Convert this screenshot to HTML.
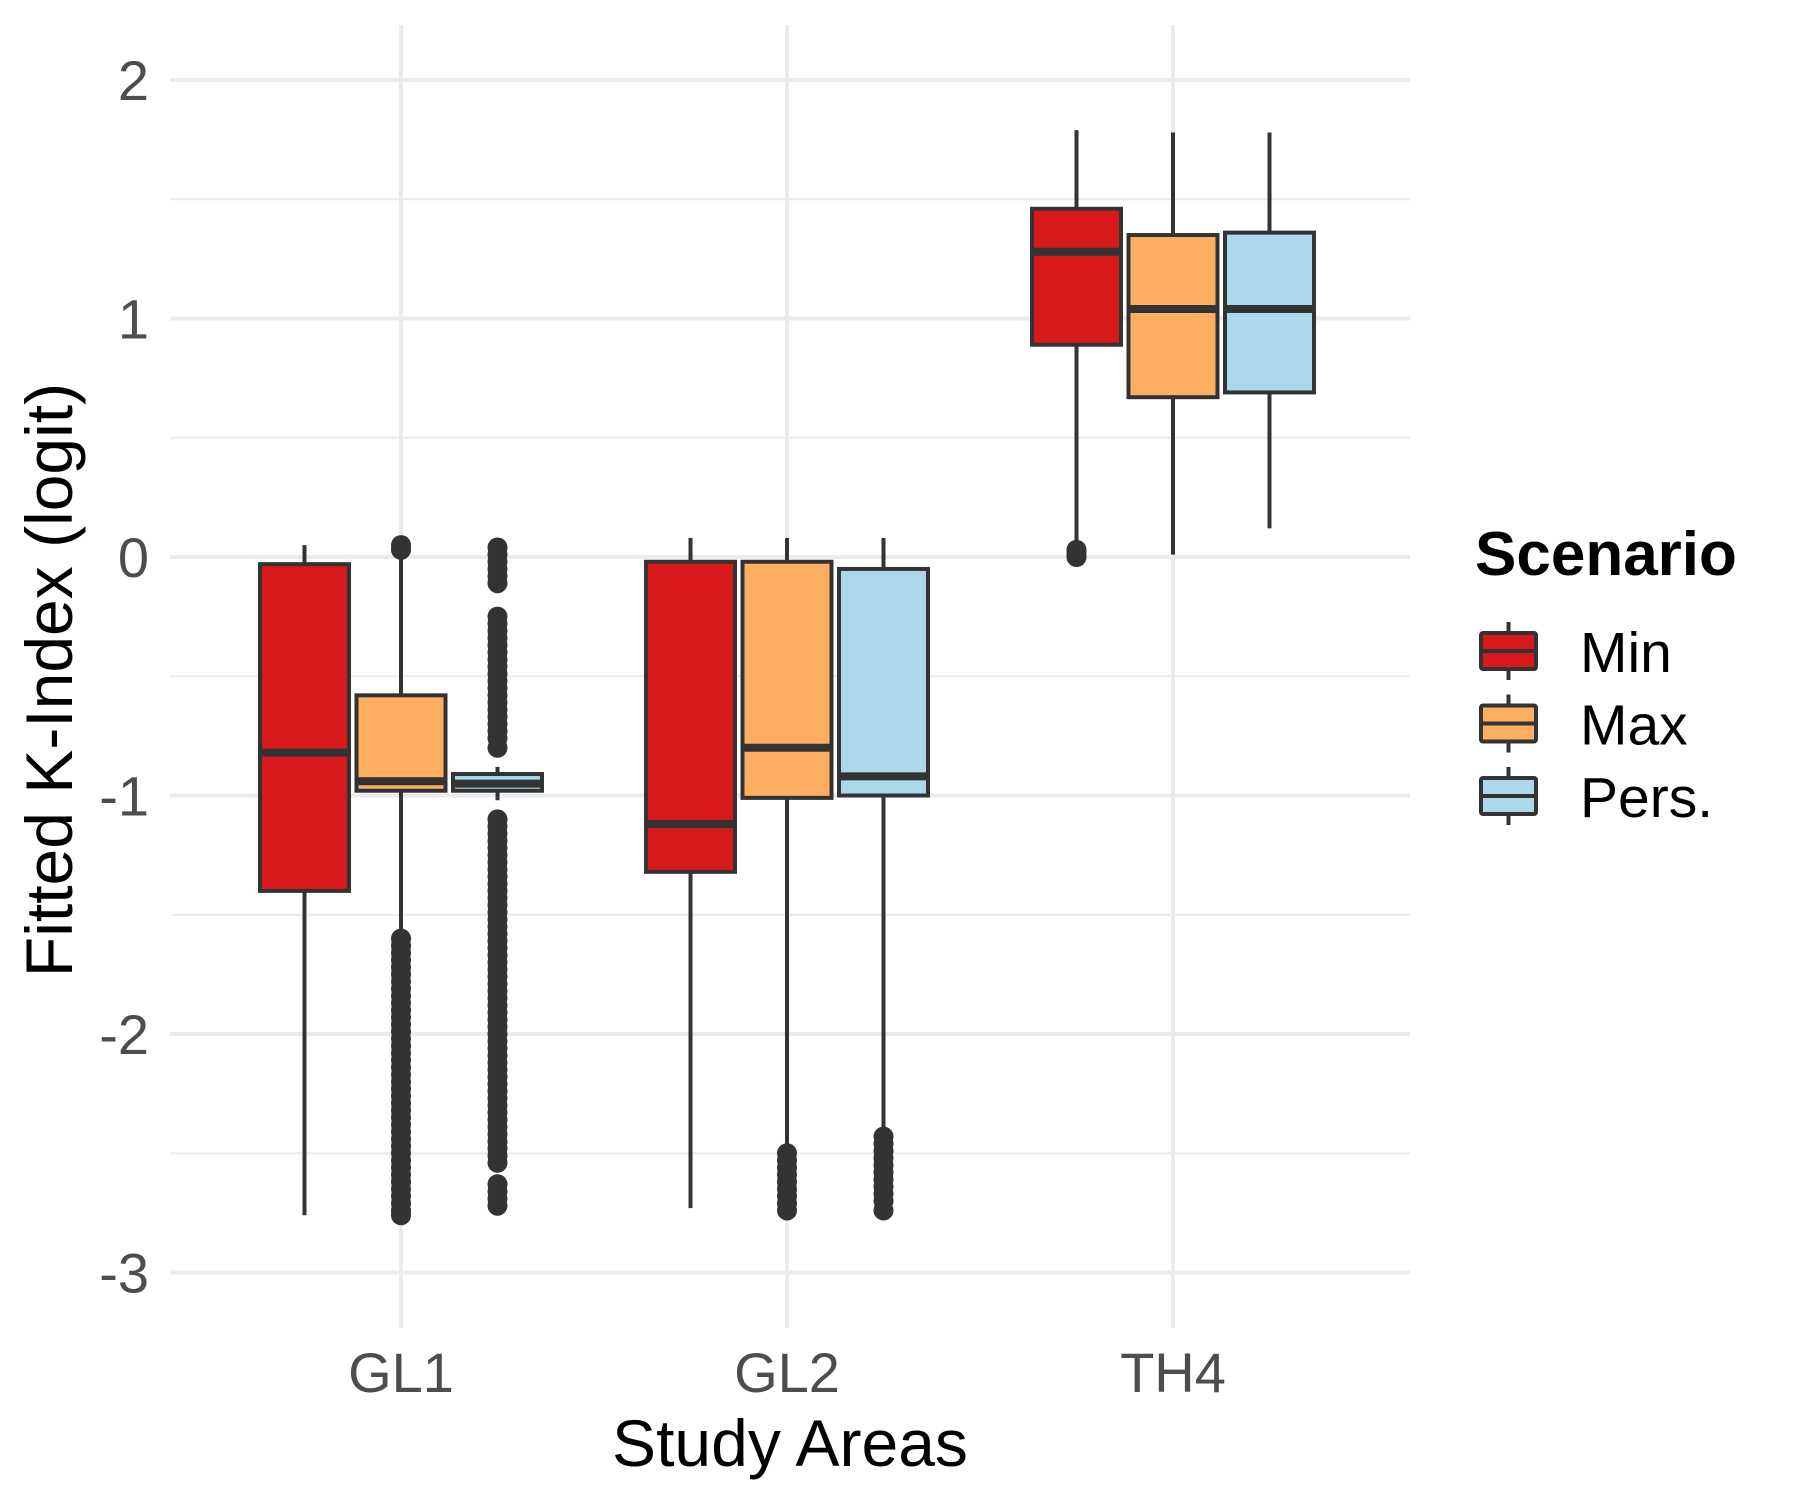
<!DOCTYPE html>
<html><head><meta charset="utf-8"><style>
html,body{margin:0;padding:0;background:#fff}
svg{display:block;font-family:"Liberation Sans",sans-serif}
</style></head><body>
<svg id="chart" width="1800" height="1500" viewBox="0 0 1800 1500">
<g id="grid"></g>
<g id="marks"></g>
<g id="axes"></g>
<text x="790" y="1466" font-size="66" text-anchor="middle" fill="#000">Study Areas</text>
<text transform="translate(72,680) rotate(-90)" font-size="66" text-anchor="middle" fill="#000">Fitted K-Index (logit)</text>
<g id="legend">
<text x="1475" y="575" font-size="62" font-weight="bold" fill="#000">Scenario</text>
</g>
</svg>
<script>
const categories = ["GL1", "GL2", "TH4"];
const scenarios = ["Min", "Max", "Pers."];
const colors = ["#d7191c", "#fdae61", "#abd9e9"];
const yTicks = [2, 1, 0, -1, -2, -3];
const yTickLabels = ["2", "1", "0", "-1", "-2", "-3"];
// [lowerWhisker, Q1, median, Q3, upperWhisker] per category per scenario
const minStats = [[-2.76, -1.40, -0.82, -0.03, 0.05], [-2.73, -1.32, -1.12, -0.02, 0.08], [0.05, 0.89, 1.28, 1.46, 1.79]];
const maxStats = [[-1.58, -0.98, -0.94, -0.58, 0.00], [-2.48, -1.01, -0.80, -0.02, 0.08], [0.01, 0.67, 1.04, 1.35, 1.78]];
const persStats = [[-1.02, -0.98, -0.95, -0.91, -0.88], [-2.42, -1.00, -0.92, -0.05, 0.08], [0.12, 0.69, 1.04, 1.36, 1.78]];
const minOutliers = [[], [], [0.0, 0.015, 0.03]];
const maxOutliers = [[0.03, 0.05, -1.6, -1.63, -1.66, -1.69, -1.72, -1.75, -1.78, -1.81, -1.84, -1.87, -1.9, -1.93, -1.96, -1.99, -2.02, -2.05, -2.08, -2.11, -2.14, -2.17, -2.2, -2.23, -2.26, -2.29, -2.32, -2.35, -2.38, -2.41, -2.44, -2.47, -2.5, -2.53, -2.56, -2.59, -2.62, -2.65, -2.68, -2.71, -2.74, -2.76], [-2.5, -2.53, -2.56, -2.59, -2.62, -2.65, -2.68, -2.71, -2.74], []];
const persOutliers = [[0.04, 0.01, -0.02, -0.05, -0.08, -0.11, -0.25, -0.28, -0.31, -0.34, -0.37, -0.4, -0.43, -0.46, -0.49, -0.52, -0.55, -0.58, -0.61, -0.64, -0.67, -0.7, -0.73, -0.76, -0.8, -1.1, -1.13, -1.16, -1.19, -1.22, -1.25, -1.28, -1.31, -1.34, -1.37, -1.4, -1.43, -1.46, -1.49, -1.52, -1.55, -1.58, -1.61, -1.64, -1.67, -1.7, -1.73, -1.76, -1.79, -1.82, -1.85, -1.88, -1.91, -1.94, -1.97, -2.0, -2.03, -2.06, -2.09, -2.12, -2.15, -2.18, -2.21, -2.24, -2.27, -2.3, -2.33, -2.36, -2.39, -2.42, -2.45, -2.48, -2.51, -2.54, -2.63, -2.66, -2.69, -2.72], [-2.43, -2.46, -2.49, -2.52, -2.55, -2.58, -2.61, -2.64, -2.67, -2.7, -2.74], []];

const allStats = [minStats, maxStats, persStats];
const allOut = [minOutliers, maxOutliers, persOutliers];
const NS = "http://www.w3.org/2000/svg";
const y = v => 557 - 238.5 * v;
const x = i => 401 + 386 * i;
const dodge = 96.5, bw = 89;
function mk(tag, attrs, parent) {
  const e = document.createElementNS(NS, tag);
  for (const k in attrs) e.setAttribute(k, attrs[k]);
  parent.appendChild(e);
  return e;
}
const grid = document.getElementById("grid");
for (let v = -3; v <= 2; v += 0.5) {
  const l = mk("line", {x1: 170, x2: 1410, y1: y(v), y2: y(v), stroke: "#ebebeb", "stroke-width": Number.isInteger(v) ? 4 : 2}, grid);
  
  
}
categories.forEach((c, i) => {
  const l = mk("line", {x1: x(i), x2: x(i), y1: 25, y2: 1328, stroke: "#ebebeb", "stroke-width": 4}, grid);
  
  
});
const axes = document.getElementById("axes");
yTicks.forEach((v, k) => {
  const t = mk("text", {x: 149, y: y(v) + 20, "font-size": 56, "text-anchor": "end", fill: "#4d4d4d"}, axes);
  t.textContent = yTickLabels[k];
  
  
});
categories.forEach((c, i) => {
  const t = mk("text", {x: x(i), y: 1392, "font-size": 56, "text-anchor": "middle", fill: "#4d4d4d"}, axes);
  t.textContent = c;
  
  
});
const marks = document.getElementById("marks");
categories.forEach((c, i) => {
  scenarios.forEach((s, j) => {
    const st = allStats[j][i];
    const cx = x(i) + (j - 1) * dodge;
    const g = mk("g", {}, marks);
    
    
    mk("line", {x1: cx, x2: cx, y1: y(st[4]), y2: y(st[3]), stroke: "#333", "stroke-width": 4}, g);
    mk("line", {x1: cx, x2: cx, y1: y(st[1]), y2: y(st[0]), stroke: "#333", "stroke-width": 4}, g);
    mk("rect", {x: cx - bw / 2, y: y(st[3]), width: bw, height: y(st[1]) - y(st[3]), fill: colors[j], stroke: "#333", "stroke-width": 4}, g);
    mk("line", {x1: cx - bw / 2, x2: cx + bw / 2, y1: y(st[2]), y2: y(st[2]), stroke: "#333", "stroke-width": 8}, g);
    allOut[j][i].forEach(v => {
      const p = mk("circle", {cx: cx, cy: y(v), r: 10, fill: "#333"}, g);
      
      
    });
  });
});
const legend = document.getElementById("legend");
scenarios.forEach((s, j) => {
  const cy = 651 + j * 72.5;
  const g = mk("g", {}, legend);
  
  
  mk("line", {x1: 1508.5, x2: 1508.5, y1: cy - 29, y2: cy + 29, stroke: "#333", "stroke-width": 4}, g);
  mk("rect", {x: 1481, y: cy - 18, width: 55, height: 36, fill: colors[j], stroke: "#333", "stroke-width": 4, rx: 2}, g);
  mk("line", {x1: 1481, x2: 1536, y1: cy, y2: cy, stroke: "#333", "stroke-width": 4}, g);
  const t = mk("text", {x: 1580, y: cy + 21, "font-size": 57, fill: "#000"}, g);
  t.textContent = s;
});
</script>
</body></html>
